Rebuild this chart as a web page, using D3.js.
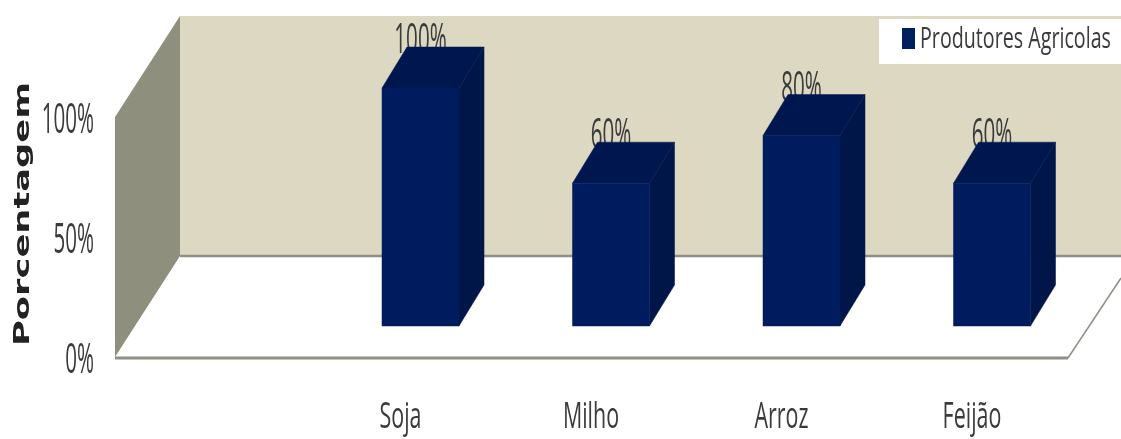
<!DOCTYPE html>
<html><head><meta charset="utf-8">
<script src="https://cdn.jsdelivr.net/npm/d3@7/dist/d3.min.js"></script>
<style>html,body{margin:0;padding:0;background:#fff;overflow:hidden}svg{display:block}</style>
</head><body><svg id="c" width="1121" height="439"></svg>
<script>
const categories = ["Soja","Milho","Arroz","Feijão"];
const values = [100,60,80,60];
const tickValues = [0,50,100];
const seriesName = "Produtores Agricolas";
const axisTitle = "Porcentagem";

const svg = d3.select("#c");
const defs = svg.append("defs");
defs.append("filter").attr("id","soft").append("feGaussianBlur").attr("stdDeviation",0.6);
defs.append("filter").attr("id","softer").append("feGaussianBlur").attr("stdDeviation",0.5);

const depthX = 25, depthY = 41;            // bar depth
const wallDX = 65, wallDY = 101;           // chart depth
const x = d3.scaleBand().domain(categories).range([382,1030.5]).paddingInner(113.5/190.5).paddingOuter(0).align(0);
const yBar = d3.scaleLinear().domain([0,100]).range([326,88]);
const yAxis = d3.scaleLinear().domain([0,100]).range([357,117]);
const colors = {front:"#001f5e",side:"#00174a",top:"#00194f",wall:"#dcd8c2",left:"#8f8f7d",line:"#8f8f86",text:"#3a3a3a"};

const g = svg.append("g").attr("filter","url(#softer)");
const line = d3.line();
const poly = (pts,fill) => g.append("path").attr("d",line(pts)+"Z").attr("fill",fill);

const x0 = 115, xBack = x0+wallDX, yF = yAxis(0), yB = yF-wallDY, yT = yAxis(100)-wallDY;
// back wall, left wall
poly([[xBack,yT],[1121,yT],[1121,yB],[xBack,yB]],colors.wall);
poly([[x0,yAxis(100)],[xBack,yT],[xBack,yB],[x0,yF]],colors.left);
// floor edges
g.append("path").attr("d",line([[xBack,yB],[1121,yB]])).attr("stroke",colors.line).attr("stroke-width",2.5).attr("fill","none");
g.append("path").attr("d",line([[x0,yF+1],[1068,yF+1]])).attr("stroke",colors.line).attr("stroke-width",3).attr("fill","none");
g.append("path").attr("d",line([[1068,yF+1],[1121,278]])).attr("stroke",colors.line).attr("stroke-width",1.5).attr("fill","none");

const textFont = "'Open Sans',sans-serif";
function label(sel,tx,ty,str,size,sx,anchor){
  return sel.append("text").attr("transform",`translate(${tx},${ty}) scale(${sx},1)`)
    .attr("text-anchor",anchor).attr("font-family",textFont).attr("font-size",size)
    .attr("fill",colors.text).text(str);
}
const tg = svg.append("g").attr("filter","url(#soft)");

// value labels sit behind the bars
values.forEach((v,i)=>{
  label(tg,x(categories[i])+x.bandwidth()/2,yBar(v)-depthY+6,v+"%",42,0.49,"middle");
});

// bars
const bg = svg.append("g").attr("filter","url(#softer)");
values.forEach((v,i)=>{
  const l=x(categories[i]), r=l+x.bandwidth(), t=yBar(v), b=yBar(0);
  const p=(pts,fill)=>bg.append("path").attr("d",line(pts)+"Z").attr("fill",fill).attr("stroke",fill).attr("stroke-width",0.5);
  p([[l,t],[r,t],[r+depthX,t-depthY],[l+depthX,t-depthY]],colors.top);
  p([[r,t],[r+depthX,t-depthY],[r+depthX,b-depthY],[r,b]],colors.side);
  p([[l,t],[r,t],[r,b],[l,b]],colors.front);
});

// y ticks
tickValues.forEach(v=>{
  label(tg,94,yAxis(v)+16,v+"%",42,0.49,"end");
});
// categories
categories.forEach(c=>{
  label(tg,x(c)+x.bandwidth()/2-20,428,c,36,0.596,"middle");
});
// axis title
tg.append("text").attr("transform","translate(29,214) rotate(-90)")
  .attr("text-anchor","middle").attr("font-family","'DejaVu Sans',sans-serif")
  .attr("font-weight","bold").attr("font-size",21).attr("fill","#222")
  .attr("textLength",264).attr("lengthAdjust","spacingAndGlyphs").text(axisTitle);

// legend
svg.append("rect").attr("x",879).attr("y",19).attr("width",242).attr("height",45).attr("fill","#fff");
svg.append("rect").attr("x",902).attr("y",28).attr("width",13).attr("height",21).attr("fill",colors.front);
svg.append("g").attr("filter","url(#soft)").append("text")
  .attr("transform","translate(920,48) scale(0.6,1)")
  .attr("font-family",textFont).attr("font-size",30).attr("fill",colors.text)
  .attr("textLength",191/0.6).attr("lengthAdjust","spacingAndGlyphs").text(seriesName);
</script></body></html>
